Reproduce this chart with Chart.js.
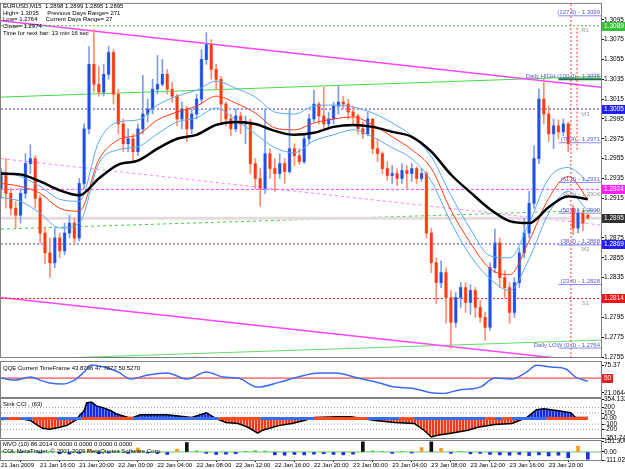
<!DOCTYPE html>
<html>
<head>
<meta charset="utf-8">
<title>EURUSD,M15</title>
<script src="https://cdn.jsdelivr.net/npm/chart.js@4.4.1/dist/chart.umd.min.js"></script>
<style>
  html, body { margin: 0; padding: 0; background: #fff; }
  #wrap { position: relative; width: 625px; height: 469px; overflow: hidden; background: #fff; }
  #wrap canvas { position: absolute; left: 0; }
  .lbl { position: absolute; left: 3px; font-family: 'Liberation Sans', Arial, sans-serif; font-size: 6px; line-height: 6.7px; color: #000; white-space: pre; z-index: 5; }
</style>
</head>
<body>
<div id="wrap">
  <canvas id="mainChart" width="625" height="362" style="top:0px"></canvas>
  <canvas id="qqeChart" width="625" height="50" style="top:352px"></canvas>
  <canvas id="cciChart" width="625" height="52" style="top:392px"></canvas>
  <canvas id="mvoChart" width="625" height="35" style="top:434px"></canvas>
  <div class="lbl" style="top:3px">EURUSD,M15  1.2898 1.2899 1.2895 1.2895
High= 1.3035     Previous Days Range= 271
Low= 1.2764     Current Days Range= 27
Close= 1.2974
Time for next bar: 13 min 16 sec</div>
  <div class="lbl" style="top:365px">QQE Current TimeFrame 43.8796 47.7877 50.5270</div>
  <div class="lbl" style="top:401px">Sink CCI , (63)</div>
  <div class="lbl" style="top:441px">MVO (10) 86.2014 0.0000 0.0000 0.0000 0.0000
COL MetaTrader, © 2001-2009 MetaQuotes Software Corp.</div>
</div>

<script>
// EURUSD M15 chart, 21-23 Jan 2009 (candles resampled to 30 min)

// ---- price candles, one every 2 bars of 15 min ----
const opens = [
  1.2925,1.2940,1.2920,1.2905,1.2898,1.2920,1.2950,1.2955,1.2915,1.2880,
  1.2860,1.2850,1.2875,1.2862,1.2880,1.2890,1.2875,1.2930,1.2985,1.3050,
  1.3030,1.3022,1.3040,1.3062,1.3020,1.2990,1.2970,1.2975,1.2962,1.2985,
  1.3000,1.3005,1.3025,1.3030,1.3040,1.3025,1.3018,1.2995,1.3005,1.2985,
  1.3000,1.3015,1.3055,1.3070,1.3045,1.3035,1.3010,1.2995,1.2985,1.2998,
  1.2990,1.2992,1.2950,1.2935,1.2925,1.2960,1.2945,1.2940,1.2950,1.2942,
  1.2965,1.2958,1.2952,1.2975,1.2995,1.3010,1.2998,1.2990,1.2995,1.3008,
  1.3012,1.3010,1.3002,1.2998,1.2985,1.2980,1.2995,1.2965,1.2960,1.2945,
  1.2938,1.2940,1.2935,1.2943,1.2940,1.2945,1.2935,1.2940,1.2880,1.2850,
  1.2830,1.2840,1.2815,1.2790,1.2815,1.2825,1.2810,1.2822,1.2805,1.2795,
  1.2785,1.2845,1.2870,1.2835,1.2825,1.2800,1.2830,1.2860,1.2880,1.2910,
  1.2955,1.3015,1.3000,1.2980,1.2988,1.2982,1.2990,1.2905,1.2885,1.2900,
  1.2898
];
const highs = [
  1.2945,1.2955,1.2925,1.2912,1.2925,1.2960,1.2969,1.2958,1.2918,1.2885,
  1.2875,1.2885,1.2880,1.2890,1.2898,1.2895,1.2935,1.2990,1.3068,1.3085,
  1.3048,1.3050,1.3068,1.3065,1.3025,1.2995,1.2985,1.2980,1.2990,1.3039,
  1.3015,1.3035,1.3059,1.3055,1.3045,1.3032,1.3020,1.3012,1.3008,1.3005,
  1.3020,1.3065,1.3082,1.3075,1.3050,1.3038,1.3012,1.3000,1.3005,1.3002,
  1.2998,1.2995,1.2955,1.2945,1.3005,1.2965,1.2955,1.2960,1.2955,1.3004,
  1.2970,1.2965,1.2980,1.3000,1.3024,1.3012,1.3027,1.3002,1.3012,1.3029,
  1.3018,1.3015,1.3008,1.3000,1.2992,1.3002,1.2995,1.2975,1.2962,1.2952,
  1.2948,1.2945,1.2950,1.2948,1.2950,1.2947,1.2945,1.2942,1.2885,1.2855,
  1.2852,1.2845,1.2822,1.2820,1.2830,1.2830,1.2828,1.2825,1.2812,1.2800,
  1.2850,1.2884,1.2875,1.2842,1.2830,1.2835,1.2865,1.2895,1.2922,1.2968,
  1.3025,1.3035,1.3008,1.2995,1.2994,1.2995,1.2992,1.2908,1.2905,1.2903,
  1.2899
];
const lows = [
  1.2915,1.2905,1.2898,1.2885,1.2890,1.2915,1.2940,1.2905,1.2870,1.2849,
  1.2835,1.2845,1.2855,1.2858,1.2875,1.2868,1.2872,1.2925,1.2980,1.3022,
  1.3018,1.3018,1.3035,1.3010,1.2980,1.2962,1.2962,1.2952,1.2958,1.2980,
  1.2992,1.3000,1.3020,1.3028,1.3020,1.3012,1.2988,1.2985,1.2972,1.2980,
  1.2995,1.3010,1.3050,1.3035,1.3025,1.2992,1.2988,1.2978,1.2982,1.2980,
  1.2970,1.2940,1.2925,1.2907,1.2920,1.2935,1.2922,1.2935,1.2930,1.2940,
  1.2948,1.2949,1.2950,1.2970,1.2992,1.2990,1.2985,1.2985,1.2990,1.3000,
  1.3005,1.2995,1.2990,1.2980,1.2975,1.2978,1.2960,1.2952,1.2940,1.2933,
  1.2930,1.2928,1.2930,1.2925,1.2932,1.2930,1.2932,1.2875,1.2840,1.2809,
  1.2825,1.2789,1.2764,1.2785,1.2805,1.2800,1.2798,1.2795,1.2790,1.2772,
  1.2782,1.2840,1.2825,1.2815,1.2789,1.2795,1.2825,1.2855,1.2875,1.2905,
  1.2950,1.2990,1.2972,1.2965,1.2975,1.2978,1.2962,1.2878,1.2880,1.2882,
  1.2895
];
const closes = [
  1.2940,1.2920,1.2905,1.2898,1.2920,1.2950,1.2955,1.2915,1.2880,1.2860,
  1.2850,1.2875,1.2862,1.2880,1.2890,1.2875,1.2930,1.2985,1.3050,1.3030,
  1.3022,1.3040,1.3062,1.3020,1.2990,1.2970,1.2975,1.2962,1.2985,1.3000,
  1.3005,1.3025,1.3030,1.3040,1.3025,1.3018,1.2995,1.3005,1.2985,1.3000,
  1.3015,1.3055,1.3070,1.3045,1.3035,1.3010,1.2995,1.2985,1.2998,1.2990,
  1.2992,1.2950,1.2935,1.2925,1.2960,1.2945,1.2940,1.2950,1.2942,1.2965,
  1.2958,1.2952,1.2975,1.2995,1.3010,1.2998,1.2990,1.2995,1.3008,1.3012,
  1.3010,1.3002,1.2998,1.2985,1.2980,1.2995,1.2965,1.2960,1.2945,1.2938,
  1.2940,1.2935,1.2943,1.2940,1.2945,1.2935,1.2940,1.2880,1.2850,1.2830,
  1.2840,1.2815,1.2790,1.2815,1.2825,1.2810,1.2822,1.2805,1.2795,1.2785,
  1.2845,1.2870,1.2835,1.2825,1.2800,1.2830,1.2860,1.2880,1.2910,1.2955,
  1.3015,1.3000,1.2980,1.2988,1.2982,1.2990,1.2970,1.2885,1.2900,1.2890,
  1.2895
];

// ---- moving averages / envelope, read every 8 bars ----
const lineIdx = [0,8,16,24,32,40,48,56,64,72,80,88,96,104,112,120,128,136,144,152,160,168,176,184,192,200,208,216,224,232,240];
const maBlack = [1.2940,1.2939,1.2932,1.2923,1.2918,1.2935,1.2949,1.2953,1.2965,1.2975,1.2979,1.2989,1.2992,1.2990,1.2983,1.2979,1.2981,1.2987,1.2989,1.2987,1.2982,1.2977,1.2962,1.2939,1.2921,1.2904,1.2892,1.2890,1.2906,1.2917,1.2914];
const maRed   = [1.2930,1.2927,1.2920,1.2905,1.2902,1.2954,1.2974,1.2979,1.2994,1.3002,1.3008,1.3018,1.3011,1.3001,1.2986,1.2984,1.2991,1.2995,1.2997,1.2989,1.2977,1.2964,1.2945,1.2903,1.2870,1.2844,1.2838,1.2872,1.2915,1.2937,1.2914];
const bandUp  = [1.2942,1.2937,1.2927,1.2914,1.2912,1.2972,1.2992,1.2994,1.3009,1.3018,1.3024,1.3033,1.3026,1.3017,1.3002,1.3000,1.3008,1.3009,1.3007,1.3001,1.2991,1.2978,1.2957,1.2918,1.2884,1.2857,1.2855,1.2890,1.2935,1.2946,1.2932];
const bandLow = [1.2916,1.2912,1.2900,1.2885,1.2890,1.2950,1.2964,1.2967,1.2980,1.2992,1.2996,1.3006,1.2994,1.2980,1.2966,1.2961,1.2973,1.2979,1.2984,1.2977,1.2966,1.2955,1.2932,1.2891,1.2857,1.2834,1.2822,1.2854,1.2900,1.2922,1.2902];

// ---- price axis ----
const priceMin = 1.2755, priceMax = 1.3111;
const priceTicks = [1.2755,1.2775,1.2795,1.2815,1.2835,1.2855,1.2875,1.2895,1.2915,1.2935,1.2955,1.2975,1.2995,1.3015,1.3035,1.3055,1.3075,1.3095];

// ---- objects on the price chart ----
const trendStart = [1.3094, 1.2815, 1.2955, 1.3017, 1.2884, 1.2752];   // at bar 0
const trendEnd   = [1.3027, 1.2749, 1.2888, 1.3038, 1.2903, 1.2772];   // at right edge
const hLevels = [1.3089, 1.3005, 1.2924, 1.2895, 1.2869, 1.2814];
const badgeValues = [1.3089, 1.3005, 1.2924, 1.2895, 1.2869, 1.2814];
const fibLevels = [1.3099, 1.3035, 1.2971, 1.2931, 1.2900, 1.2868, 1.2828, 1.2764];
const fibNames = ['(127.6) - 1.3099', 'Daily HIGH (100.0) - 1.3035', '(76.4) - 1.2971', '(61.8) - 1.2931',
                  '(50.0) - 1.2900', '(38.2) - 1.2868', '(23.6) - 1.2828', 'Daily LOW (0.0) - 1.2764'];
const pivotNames = ['R1', 'M3', 'Pivot - 1.2906', 'M2', 'S1'];
const pivotAt = [1.3089, 1.3005, 1.2924, 1.2869, 1.2814];
const vLineIdx = [233.1, 235.6];
const vLineTop = [1.3111, 1.3087];
const vLineBottom = [1.2755, 1.2962];

// ---- QQE ----
const qqeIdx = [0,6,12,16,20,25,30,34,37,42,48,53,60,68,76,84,91,97,105,114,120,130,137,146,155,161,168,176,181,187,196,202,209,215,219,225,231,235,240];
const qqeVal = [50.0,46.1,52.0,46.1,40.3,38.3,46.1,61.7,75.4,71.5,61.7,48.1,55.9,59.8,48.1,61.7,52.0,50.0,32.5,42.2,50.0,59.8,59.8,50.0,40.3,32.5,30.5,21.5,20.2,26.6,32.5,50.0,48.1,61.7,75.0,71.5,67.6,52.0,43.9];
const qqeTicks = [21.0644, 75.37];

// ---- Sink CCI ----
const cciIdx = [0,8,12,15,17,20,24,27,31,32,34,35,37,39,42,45,47,52,54,57,68,78,84,88,92,97,101,105,107,114,119,124,128,138,143,148,153,161,169,173,176,179,184,191,195,202,209,212,215,219,222,228,233,235,240];
const cciVal = [-18,0,-35,-123,-176,-194,-158,-123,-18,53,141,282,299,229,194,141,88,18,18,70,70,18,106,0,-70,-88,-158,-264,-211,-123,-88,-35,18,35,35,0,-35,-70,-88,-211,-334,-299,-264,-211,-158,-106,-88,-35,18,158,176,141,106,18,18];
const cciBandIdx = [0,3,8,13,23,33,54,89,106,128,150,163,169,198,202,205,209,223,240];
const cciBandState = [1,-1,1,-1,1,-1,1,-1,1,-1,1,-1,1,-1,1,-1,1,-1];
const cciLevels = [200, 100, -100, -200];
const cciTicks = [-351.741, -200, -100, 0, 100, 200, 354.1322];

// ---- MVO ----
const mvoIdx = [0,4,8,12,16,20,24,28,32,36,40,44,48,52,56,60,64,68,72,76,80,84,88,92,96,100,104,108,112,116,120,124,128,132,136,140,144,148,152,156,160,164,168,172,176,180,184,188,192,196,200,204,208,212,216,220,224,228,232,236,240];
const mvoVal = [5,8,-10,6,-15,10,-25,-30,-20,35,-25,-15,10,-20,55,-15,-20,-35,40,130,15,-20,-35,-30,-25,10,18,12,-40,-45,-35,-40,-30,-25,-35,-40,-30,140,15,10,-20,8,-15,60,140,50,-20,8,-25,-20,-35,-40,-45,-35,-50,-40,-55,-45,-80,80,-100];
const mvoTicks = [-111.027, 0, 151.3008];

// ---- time axis ----
const xTickIdx = [0,16,32,48,64,80,96,112,128,144,160,176,192,208,224];
const xTickLabels = ['21 Jan 2009','21 Jan 16:00','21 Jan 20:00','22 Jan 00:00','22 Jan 04:00','22 Jan 08:00','22 Jan 12:00',
                     '22 Jan 16:00','22 Jan 20:00','23 Jan 00:00','23 Jan 04:00','23 Jan 08:00','23 Jan 12:00','23 Jan 16:00','23 Jan 20:00'];

const X_MIN = 0, X_MAX = 245.4;
const FONT = "'Liberation Sans', Arial, sans-serif";

// ---------------------------------------------------------------

function xScale(show) {
    return {
        type: 'linear', min: X_MIN, max: X_MAX, offset: false, display: show,
        afterBuildTicks: s => { s.ticks = xTickIdx.map(v => ({ value: v })); },
        afterFit: s => { s.height = show ? 9 : 0; },
        ticks: {
            autoSkip: false, maxRotation: 0, align: 'start', padding: 0,
            font: { size: 6, family: FONT }, color: '#000',
            callback: (v, i) => xTickLabels[i]
        },
        grid: { drawOnChartArea: false, tickLength: 2, color: '#000' },
        border: { color: '#808080' }
    };
}

function yScale(min, max, ticks, fmt) {
    return {
        position: 'right', min: min, max: max,
        afterFit: s => { s.width = 24; },
        afterBuildTicks: s => { s.ticks = ticks.map(v => ({ value: v })); },
        ticks: { autoSkip: false, padding: 0, font: { size: 6.5, family: FONT }, color: '#000', callback: fmt },
        grid: { drawOnChartArea: false, tickLength: 3, color: '#000' },
        border: { color: '#000' }
    };
}

function seg(x0, y0, x1, y1, color, width, dash, order) {
    return {
        type: 'line', data: [{ x: x0, y: y0 }, { x: x1, y: y1 }],
        borderColor: color, borderWidth: width, borderDash: dash || [],
        pointRadius: 0, fill: false, order: order
    };
}

function series(xs, ys, color, width, order) {
    return {
        type: 'line', data: xs.map((x, i) => ({ x: x, y: ys[i] })),
        borderColor: color, borderWidth: width, pointRadius: 0, fill: false,
        tension: 0.3, cubicInterpolationMode: 'monotone', order: order
    };
}

function stripes(c1, c2) {
    const p = document.createElement('canvas');
    p.width = 3; p.height = 1;
    const g = p.getContext('2d');
    g.fillStyle = c1; g.fillRect(0, 0, 2, 1);
    g.fillStyle = c2; g.fillRect(2, 0, 1, 1);
    return g.createPattern(p, 'repeat');
}

const frame = {
    id: 'frame',
    afterDatasetsDraw(chart) {
        const a = chart.chartArea, ctx = chart.ctx;
        ctx.save();
        ctx.strokeStyle = '#808080';
        ctx.lineWidth = 1;
        ctx.strokeRect(a.left - 0.5, a.top - 0.5, a.right - a.left + 1, a.bottom - a.top + 1);
        ctx.restore();
    }
};

const baseOptions = {
    responsive: false,
    animation: false,
    events: [],
    plugins: { legend: { display: false }, tooltip: { enabled: false } }
};

// ---- main price chart ----
const trendColors = ['#ff44ff', '#ff44ff', '#ff80ff', '#44dd44', '#44cc44', '#66dd66'];
const trendDash = [[], [], [3, 3], [], [3, 3], []];
const levelColors = ['#44bb44', '#3a3ae0', '#ff44ff', '#e4dcdc', '#3a3ae0', '#ff2020'];
const levelDash = [[2, 2], [2, 2], [3, 2], [], [2, 2], [2, 2]];
const levelWidth = [1, 1, 1, 3, 1, 1];
const badgeColors = ['#33c033', '#2020f0', '#ff22ff', '#303030', '#2020f0', '#ee1111'];

const candleIdx = closes.map((_, k) => k * 2);
const isUp = k => closes[k] >= opens[k];

const mainDatasets = [];
trendStart.forEach((v, i) => mainDatasets.push(seg(X_MIN, v, X_MAX, trendEnd[i], trendColors[i], i < 2 ? 1.5 : 1, trendDash[i], 60)));
hLevels.forEach((v, i) => mainDatasets.push(seg(X_MIN, v, X_MAX, v, levelColors[i], levelWidth[i], levelDash[i], 55)));
vLineIdx.forEach((x, i) => mainDatasets.push(seg(x, vLineTop[i], x, vLineBottom[i], '#ff3030', 1, [2, 2], 55)));
fibLevels.forEach((v, i) => mainDatasets.push(seg(228, v, X_MAX, v, i === 1 ? '#1e6e4e' : '#8a8af0', i === 1 ? 2 : 1, [], 54)));

// candle: pale body shadow, thin wick, narrow saturated body
mainDatasets.push({
    type: 'bar', data: candleIdx.map((x, k) => ({ x: x, y: [opens[k], closes[k]] })),
    backgroundColor: c => isUp(c.dataIndex) ? '#a9bef5' : '#ffb4a0',
    barThickness: 3, grouped: false, minBarLength: 1, order: 42
});
mainDatasets.push({
    type: 'bar', data: candleIdx.map((x, k) => ({ x: x, y: [lows[k], highs[k]] })),
    backgroundColor: c => isUp(c.dataIndex) ? '#7e9cee' : '#ff8e70',
    barThickness: 1, grouped: false, minBarLength: 1, order: 41
});
mainDatasets.push({
    type: 'bar', data: candleIdx.map((x, k) => ({ x: x, y: [opens[k], closes[k]] })),
    backgroundColor: c => isUp(c.dataIndex) ? '#1f4ee6' : '#ff3a10',
    barThickness: 2, grouped: false, minBarLength: 1, order: 40
});
mainDatasets.push(series(lineIdx, bandUp, '#5aa8f8', 1, 13));
mainDatasets.push(series(lineIdx, bandLow, '#5aa8f8', 1, 12));
mainDatasets.push(series(lineIdx, maRed, '#ff3a10', 1, 11));
mainDatasets.push(series(lineIdx, maBlack, '#000000', 2.5, 10));

const mainLabels = {
    id: 'mainLabels',
    afterDraw(chart) {
        const ctx = chart.ctx, xs = chart.scales.x, ys = chart.scales.y, a = chart.chartArea;
        ctx.save();
        ctx.font = '6px ' + FONT;
        ctx.textAlign = 'right';
        ctx.textBaseline = 'alphabetic';
        ctx.fillStyle = '#5a5ad0';
        fibLevels.forEach((v, i) => ctx.fillText(fibNames[i], a.right - 1, ys.getPixelForValue(v) - 1.5));

        ctx.fillStyle = '#9a9a9a';
        ctx.textBaseline = 'top';
        pivotAt.forEach((v, i) => {
            const y = ys.getPixelForValue(v) + 2;
            if (pivotNames[i].length > 3) {
                ctx.textAlign = 'right';
                ctx.fillText(pivotNames[i], a.right - 1, y);
            } else {
                ctx.textAlign = 'center';
                ctx.fillText(pivotNames[i], xs.getPixelForValue(239), y);
            }
        });

        ctx.font = '6.5px ' + FONT;
        ctx.textAlign = 'left';
        ctx.textBaseline = 'middle';
        badgeValues.forEach((v, i) => {
            const y = Math.round(ys.getPixelForValue(v));
            ctx.fillStyle = badgeColors[i];
            ctx.fillRect(a.right + 1, y - 4, 24, 9);
            ctx.fillStyle = '#ffffff';
            ctx.fillText(v.toFixed(4), a.right + 3, y + 0.5);
        });
        ctx.restore();
    }
};

new Chart(document.getElementById('mainChart'), {
    type: 'bar',
    data: { datasets: mainDatasets },
    options: Object.assign({}, baseOptions, {
        layout: { padding: { left: 1, right: 0, top: 1, bottom: 5 } },
        scales: {
            x: xScale(false),
            y: yScale(priceMin, priceMax, priceTicks, v => Number(v).toFixed(4))
        }
    }),
    plugins: [frame, mainLabels]
});

// ---- QQE ----
const qqeBadge = {
    id: 'qqeBadge',
    afterDraw(chart) {
        const ctx = chart.ctx, ys = chart.scales.y, a = chart.chartArea;
        const y = Math.round(ys.getPixelForValue(50));
        ctx.save();
        ctx.fillStyle = '#ee2020';
        ctx.fillRect(a.right + 1, y - 4, 11, 9);
        ctx.fillStyle = '#ffffff';
        ctx.font = '6.5px ' + FONT;
        ctx.textBaseline = 'middle';
        ctx.fillText('50', a.right + 3, y + 0.5);
        ctx.restore();
    }
};

new Chart(document.getElementById('qqeChart'), {
    type: 'line',
    data: {
        datasets: [
            seg(X_MIN, 50, X_MAX, 50, '#ff2020', 1, [], 5),
            series(qqeIdx, qqeVal, '#3a6cf0', 1.5, 1)
        ]
    },
    options: Object.assign({}, baseOptions, {
        layout: { padding: { left: 1, right: 0, top: 10, bottom: 5 } },
        scales: {
            x: xScale(false),
            y: yScale(13.3, 81.2, qqeTicks, v => String(v))
        }
    }),
    plugins: [frame, qqeBadge]
});

// ---- Sink CCI ----
const cciDatasets = cciLevels.map(v => seg(X_MIN, v, X_MAX, v, '#a0a0a0', 1, [1, 2], 9));
cciDatasets.push({
    type: 'line',
    data: cciIdx.map((x, i) => ({ x: x, y: cciVal[i] })),
    borderColor: '#000000', borderWidth: 1.5, pointRadius: 0, tension: 0,
    fill: { target: 'origin', above: stripes('#1428ee', '#6f86ff'), below: stripes('#ef3a1e', '#ffb4a4') },
    order: 3
});
cciDatasets.push({
    type: 'line',
    data: cciBandIdx.map(x => ({ x: x, y: 0 })),
    borderWidth: 3, pointRadius: 0, fill: false,
    borderColor: '#3a6ee8',
    segment: { borderColor: c => cciBandState[c.p0DataIndex] > 0 ? '#3a6ee8' : '#ff4a1e' },
    order: 1
});

new Chart(document.getElementById('cciChart'), {
    type: 'line',
    data: { datasets: cciDatasets },
    options: Object.assign({}, baseOptions, {
        layout: { padding: { left: 1, right: 0, top: 7, bottom: 6 } },
        scales: {
            x: xScale(false),
            y: yScale(-351.741, 354.1322, cciTicks, v => (v === 0 ? '0.00' : String(v)))
        }
    }),
    plugins: [frame]
});

// ---- MVO ----
const mvoColor = v => v >= 100 ? '#111111' : v >= 30 ? '#ff9a1a' : v >= 0 ? '#33cc33' : '#1a2ee8';

new Chart(document.getElementById('mvoChart'), {
    type: 'bar',
    data: {
        datasets: [
            seg(X_MIN, 0, X_MAX, 0, '#66cc66', 1, [], 5),
            {
                type: 'bar',
                data: mvoIdx.map((x, i) => ({ x: x, y: mvoVal[i] })),
                backgroundColor: c => mvoColor(mvoVal[c.dataIndex]),
                barThickness: 3, grouped: false, order: 1
            }
        ]
    },
    options: Object.assign({}, baseOptions, {
        layout: { padding: { left: 1, right: 0, top: 7, bottom: 0 } },
        scales: {
            x: xScale(true),
            y: yScale(-111.027, 151.3008, mvoTicks, v => (v === 0 ? '0.00' : String(v)))
        }
    }),
    plugins: [frame]
});
</script>
</body>
</html>
